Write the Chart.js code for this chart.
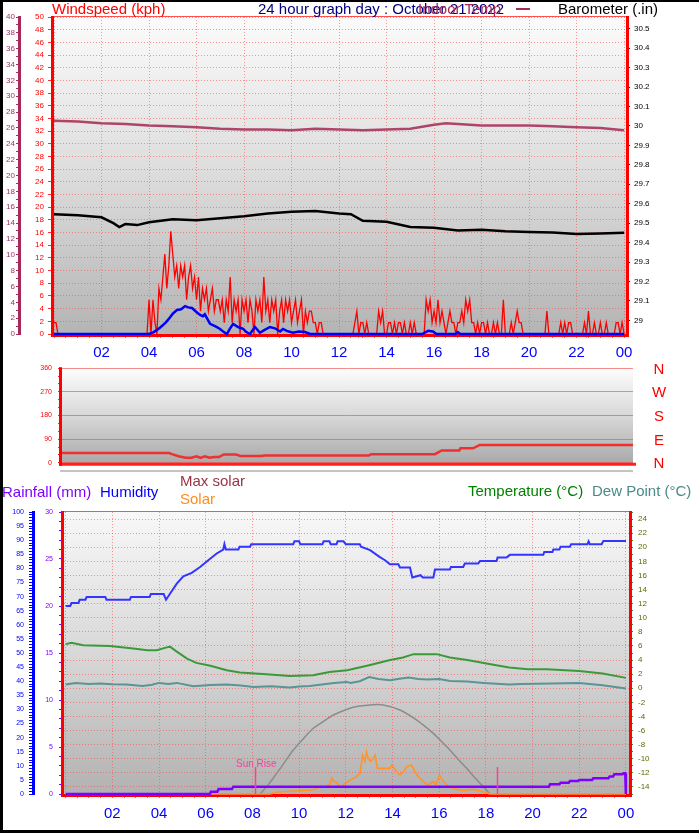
<!DOCTYPE html>
<html><head><meta charset="utf-8">
<script src="https://cdn.jsdelivr.net/npm/chart.js@4.4.1/dist/chart.umd.min.js"></script>
<style>
html,body{margin:0;padding:0;background:#fff;}
body{width:699px;height:833px;position:relative;overflow:hidden;font-family:"Liberation Sans",Arial,sans-serif;}
canvas{position:absolute;left:0;}
.t{position:absolute;white-space:nowrap;font-size:15px;line-height:15px;}
.blk{position:absolute;background:#000;}
</style></head><body>
<canvas id="cTop" width="699" height="372" style="top:0"></canvas>
<canvas id="cMid" width="699" height="115" style="top:358px"></canvas>
<canvas id="cBot" width="699" height="333" style="top:500px"></canvas>

<div class="blk" style="left:0;top:0;width:699px;height:2px"></div>
<div class="blk" style="left:0;top:0;width:3px;height:833px"></div>
<div class="blk" style="left:0;top:830px;width:699px;height:3px"></div>
<div style="position:absolute;left:60px;top:470px;width:573px;height:2px;background:#c4c4c4"></div>

<div class="t" style="left:52px;top:1px;color:#ff0000">Windspeed (kph)</div>
<div class="t" style="left:258px;top:1px;color:#000080">24 hour graph day : October 21 2022</div>
<div class="t" style="left:418px;top:1px;color:#a8285a">Indoor Temp</div>
<div style="position:absolute;left:516px;top:8px;width:14px;height:2px;background:#a8285a"></div>
<div class="t" style="left:558px;top:1px;color:#000">Barometer (.in)</div>

<div class="t" style="left:2px;top:484px;color:#8000ff">Rainfall (mm)</div>
<div class="t" style="left:100px;top:484px;color:#0000ff">Humidity</div>
<div class="t" style="left:180px;top:473px;color:#993344">Max solar</div>
<div class="t" style="left:180px;top:491px;color:#ff8c1a">Solar</div>
<div class="t" style="left:468px;top:483px;color:#008000">Temperature (°C)</div>
<div class="t" style="left:592px;top:483px;color:#4a8a8a">Dew Point (°C)</div>
<div id="sunLabel" class="t" style="font-size:10px;line-height:10px;color:#f0459a;top:759px;left:236px">Sun Rise</div>

<script>
// ---------- DATA ----------
// Top panel
const indoorTimes = [0,1,2,3,4,5,6,7,8,9,10,11,12,13,14,15,16,16.5,17,18,19,20,21,22,23,24];
const indoorTemp  = [26.9,26.8,26.6,26.5,26.3,26.2,26.1,25.9,25.8,25.8,25.7,25.9,25.8,25.7,25.8,25.9,26.4,26.6,26.5,26.3,26.3,26.3,26.2,26.1,26.0,25.7];

const baroTimes  = [0,1,2,2.5,2.75,3,3.5,4,5,6,7,8,9,10,11,12,12.5,13,14,15,16,17,18,19,20,21,22,23,24];
const baroValues = [29.546,29.54,29.53,29.50,29.48,29.495,29.49,29.505,29.52,29.515,29.525,29.535,29.55,29.558,29.563,29.55,29.546,29.512,29.507,29.48,29.476,29.462,29.466,29.458,29.454,29.452,29.444,29.447,29.45];

const windAvgTimes  = [0,4.0,4.2,4.46,4.7,4.88,5.0,5.18,5.35,5.52,5.65,5.81,6.02,6.15,6.27,6.35,6.57,6.8,6.99,7.15,7.28,7.4,7.54,7.75,7.96,8.1,8.25,8.46,8.67,8.85,9.09,9.3,9.52,9.64,9.8,10.06,10.3,10.57,10.78,15.5,15.75,15.95,16.1,16.9,17.0,17.1,24];
const windAvgValues = [0,0,0.3,1.0,1.8,2.6,3.2,3.8,3.9,4.4,4.2,4.1,3.4,3.0,2.8,3.1,1.6,1.2,0.8,0.3,0,0.8,1.6,1.1,0.8,0.3,0,1.1,0.2,0.6,1.1,0.9,0.4,0.8,0.5,0.2,0.4,0.3,0,0,0.5,0.4,0,0,0.3,0,0];

const gustStepMinutes = 5;
const gustValues = [
 1.8,1.8,0,0,0,0,0,0,0,0,0,0,
 0,0,0,0,0,0,0,0,0,0,0,0,
 0,0,0,0,0,0,0,0,0,0,0,0,
 0,0,0,0,0,0,0,0,0,0,0,0,
 5.4,0,5.4,1.8,0,7.2,5.4,9,12.6,7.2,10.8,16.2,
 12.6,9,10.8,7.2,10.8,9,10.8,5.4,9,10.8,7.2,9,
 5.4,9,3.6,7.2,5.4,7.2,3.6,5.4,7.2,3.6,5.4,5.4,
 3.6,5.4,1.8,5.4,3.6,9,1.8,5.4,3.6,5.4,0,5.4,
 3.6,5.4,1.8,5.4,3.6,0,5.4,3.6,5.4,1.8,9,3.6,
 5.4,1.8,5.4,3.6,5.4,0,3.6,5.4,1.8,5.4,3.6,5.4,
 1.8,3.6,5.4,1.8,3.6,5.4,0,3.6,1.8,3.6,3.6,1.8,
 1.8,0,1.8,1.8,0,0,0,0,0,0,0,0,
 0,0,0,0,0,0,0,0,1.8,3.6,0,1.8,
 1.8,0,1.8,0,0,0,0,0,3.6,1.8,3.6,0,
 0,1.8,1.8,0,1.8,0,1.8,1.8,0,1.8,0,0,
 1.8,0,1.8,0,0,0,0,0,5.4,3.6,5.4,1.8,
 3.6,1.8,5.4,1.8,3.6,1.8,0,1.8,3.6,1.8,1.8,0,
 1.8,1.8,3.6,1.8,5.4,3.6,5.4,1.8,1.8,0,1.8,0,
 1.8,1.8,0,1.8,0,0,1.8,0,1.8,0,0,5.4,
 0,0,0,1.8,0,1.8,3.6,1.8,1.8,0,0,0,
 0,0,0,0,0,0,0,0,0,3.6,0,0,
 0,0,0,0,1.8,0,1.8,0,1.8,1.8,0,0,
 0,0,0,0,1.8,0,3.6,0,0,1.8,0,0,
 1.8,0,0,1.8,0,0,0,0,1.8,1.8,0,1.8,
 0];
const gustTimes = gustValues.map((v, i) => i * gustStepMinutes / 60);

const baroTicks = [29,29.1,29.2,29.3,29.4,29.5,29.6,29.7,29.8,29.9,30,30.1,30.2,30.3,30.4,30.5];

// Middle panel: wind direction
const dirTimes  = [0,4.5,4.62,4.9,5.2,5.45,5.65,5.83,6.0,6.2,6.4,6.6,6.8,7.3,7.5,8.4,8.5,12.9,13.0,15.68,15.96,16.7,16.75,17.28,17.56,24];
const dirValues = [37,37,33,25,19,19,25,19,25,19,22,22,32,32,26,26,28,28,33,33,47,47,55,55,68,68];
const compassLabels = ['N','W','S','E','N'];
const compassValues = [360,270,180,90,0];

// Bottom panel
const humTimes  = [0,0.2,0.25,0.55,0.6,0.85,0.9,1.7,1.75,2.75,2.8,3.6,3.65,4.2,4.3,4.47,4.76,5.04,5.4,5.76,6.11,6.47,6.75,6.8,6.86,7.4,7.45,7.9,7.95,9.75,9.8,10.0,10.05,11.0,11.05,11.3,11.35,11.6,11.65,11.9,12.0,12.6,12.65,13.04,13.46,13.68,13.89,14.25,14.32,14.75,14.85,15.2,15.3,15.75,15.82,16.46,16.5,17.03,17.1,17.67,17.75,18.46,18.5,18.89,19.03,20.46,20.5,20.85,20.89,21.15,21.2,21.6,21.65,22.35,22.4,22.45,22.96,23.03,24];
const humValues = [66.7,66.7,67.7,67.7,68.9,68.9,69.9,69.9,68.9,68.9,69.9,69.9,70.9,70.9,68.9,71,74.6,77.2,78.4,80.5,82.9,85.3,86.7,88.6,86.7,86.7,87.7,87.7,88.6,88.6,89.6,89.6,88.6,88.6,89.6,89.6,88.6,88.6,89.6,89.6,88.6,88.6,87.7,86.5,84,82.9,81.5,81.5,80.3,80.3,76.8,77.6,76.8,76.8,79.6,79.6,80.5,80.5,81.7,81.7,82.6,82.6,83.9,83.9,84.8,84.8,85.8,85.8,86.7,86.7,87.7,87.7,88.6,88.6,89.6,88.6,88.6,89.7,89.7];

const tempTimes  = [0,0.25,0.75,1.9,2.9,3.5,3.9,4.33,4.47,4.76,5.2,5.6,6.2,6.9,7.47,8.6,9.6,10.6,11.3,12.05,12.2,13.0,13.9,14.45,14.9,15.9,16.46,17.2,18.2,19.0,19.8,20.6,22.0,23.0,24];
const tempValues = [6.26,6.45,6.1,6.0,5.65,5.4,5.4,5.8,5.9,5.2,4.2,3.6,3.2,2.56,2.23,2.0,1.75,1.85,2.3,2.56,2.66,3.27,4.0,4.36,4.84,4.84,4.36,4.0,3.41,2.94,2.7,2.7,2.46,2.1,1.47];

const dewTimes  = [0,0.43,1.0,1.47,2.0,2.6,3.3,3.7,4.0,4.4,4.76,5.47,6.2,6.9,7.5,8.05,8.8,9.6,10.0,10.45,11.5,12.05,12.2,12.6,13.0,13.4,13.9,14.3,14.7,15.1,15.5,16.0,16.46,17.2,17.9,19.0,19.5,20.8,22.0,23.0,24];
const dewValues = [0.52,0.76,0.6,0.66,0.55,0.52,0.33,0.5,0.76,0.6,0.76,0.28,0.45,0.52,0.4,0.19,0.3,0.1,0.25,0.33,0.76,0.9,0.76,1.0,1.6,1.3,1.14,1.35,1.52,1.3,1.24,1.3,1.04,0.95,0.76,0.52,0.6,0.66,0.76,0.43,-0.05];

const rainTimes  = [0,6.18,6.22,6.5,6.55,7.12,7.18,20.7,20.75,21.15,21.2,21.55,21.6,21.95,22.0,22.55,22.6,23.25,23.3,23.45,23.5,23.85,23.9,23.97,23.99,24];
const rainValues = [0,0,0.25,0.25,0.53,0.53,0.78,0.78,1.03,1.03,1.2,1.2,1.39,1.39,1.5,1.5,1.67,1.67,1.85,1.85,2.1,2.1,2.2,2.2,0,0];

const solarTimes  = [0,8.75,9.04,9.61,10.04,10.61,10.9,11.1,11.32,11.4,11.5,11.61,11.75,11.9,12.04,12.18,12.4,12.61,12.72,12.82,12.89,12.96,13.06,13.18,13.25,13.35,13.61,13.89,13.97,14.18,14.32,14.47,14.61,14.82,14.96,15.11,15.32,15.54,15.75,15.86,16.01,16.18,16.39,16.75,17.03,17.46,17.89,18.18,24];
const solarValues = [0,0,6,10,12,15,27,24,35,57,45,41,24,32,41,50,58,73,138,115,150,126,115,126,138,91,91,91,103,79,67,79,97,103,79,61,44,32,44,32,67,44,26,17,12,17,8,0,0];

const maxSolarTimes  = [8.33,8.7,9.04,9.4,9.75,10.2,10.61,11.0,11.47,12.18,12.6,13.04,13.6,14.32,15.04,15.75,16.1,16.46,16.8,17.18,17.5,17.89,18.18];
const maxSolarValues = [0,35,73,115,156,198,233,255,280,304,312,316,316,298,262,215,186,156,124,91,60,26,0];

const sunTimes = [8.11, 18.46];

const halfHourTicks = [];
for (let h = 0; h <= 48; h++) halfHourTicks.push(h / 2);

// ---------- HELPERS ----------
Chart.defaults.font.family = '"Liberation Sans", Arial, sans-serif';
Chart.defaults.animation = false;
const pts = (xs, ys) => xs.map((x, i) => ({x, y: ys[i]}));
const hourLabel = v => (v > 0 && Math.abs(v % 2) < 1e-9) ? String(Math.round(v) % 24).padStart(2, '0') : '';
const GRID = 'rgba(255,70,70,0.55)';

const panelPlugin = {
  id: 'panel',
  beforeDraw(chart, args, o) {
    const {ctx, chartArea: a} = chart;
    const g = ctx.createLinearGradient(0, a.top, 0, a.bottom);
    o.stops.forEach(s => g.addColorStop(s[0], s[1]));
    ctx.save(); ctx.fillStyle = g;
    ctx.fillRect(a.left, a.top, a.right - a.left, a.bottom - a.top);
    ctx.restore();
  },
  beforeDatasetsDraw(chart, args, o) {
    const {ctx, chartArea: a} = chart;
    const f = o.frame || {};
    ctx.save();
    const line = (x1, y1, x2, y2, w, c) => { ctx.beginPath(); ctx.lineWidth = w; ctx.strokeStyle = c; ctx.moveTo(x1, y1); ctx.lineTo(x2, y2); ctx.stroke(); };
    if (f.top) line(a.left - 3, a.top - f.top[0] / 2, a.right + 3, a.top - f.top[0] / 2, f.top[0], f.top[1]);
    if (f.bottom) line(a.left - 3, a.bottom + f.bottom[0] / 2, a.right + 3, a.bottom + f.bottom[0] / 2, f.bottom[0], f.bottom[1]);
    if (f.left) line(a.left - f.left[0] / 2, a.top - 1, a.left - f.left[0] / 2, a.bottom + 3, f.left[0], f.left[1]);
    if (f.right) line(a.right + f.right[0] / 2, a.top - 1, a.right + f.right[0] / 2, a.bottom + 3, f.right[0], f.right[1]);
    ctx.restore();
  }
};

const sunPlugin = {
  id: 'sun',
  afterDatasetsDraw(chart) {
    const {ctx, chartArea: a, scales} = chart;
    ctx.save(); ctx.strokeStyle = '#f0459a'; ctx.lineWidth = 1.5;
    sunTimes.forEach(t => {
      const px = Math.round(scales.x.getPixelForValue(t)) + 0.5;
      ctx.beginPath(); ctx.moveTo(px, a.bottom); ctx.lineTo(px, a.bottom - 27); ctx.stroke();
    });
    ctx.restore();
  }
};

function timeAxis(min, max, height, pad) {
  return {
    type: 'linear', position: 'bottom', min, max, bounds: 'data',
    afterBuildTicks: s => { s.ticks = halfHourTicks.map(v => ({value: v})); },
    afterFit: s => { s.height = height; },
    ticks: {autoSkip: false, maxRotation: 0, color: '#0000ff', font: {size: 15}, padding: pad, callback: hourLabel},
    grid: {color: c => (c.tick && c.tick.value % 2 === 0) ? GRID : 'transparent', tickColor: '#8a8ab8', tickLength: 4, lineWidth: 1},
    border: {display: false, dash: [1, 2]}
  };
}
const line = (data, color, width, yAxisID, order, extra) => Object.assign({
  data, borderColor: color, borderWidth: width, yAxisID, order, pointRadius: 0, tension: 0, fill: false, clip: 4
}, extra || {});

// ---------- TOP CHART ----------
new Chart(document.getElementById('cTop'), {
  type: 'line',
  data: {datasets: [
    line(pts(gustTimes, gustValues), '#ff0000', 1.3, 'ySpeed', 5),
    line(pts(indoorTimes, indoorTemp), '#b04468', 2.5, 'yIndoor', 3),
    line(pts(baroTimes, baroValues), '#000000', 2.5, 'yBaro', 2),
    line(pts(windAvgTimes, windAvgValues), '#0000ff', 2.5, 'ySpeed', 1)
  ]},
  options: {
    responsive: false, animation: false,
    layout: {padding: {top: 17, left: 0, right: 0, bottom: 0}},
    plugins: {legend: {display: false}, tooltip: {enabled: false},
      panel: {stops: [[0, '#fbfbfb'], [0.5, '#dcdcdc'], [1, '#b4b4b4']],
              frame: {top: [1, '#ff5050'], bottom: [3, '#ff0000'], left: [3, '#ff0000'], right: [3, '#ff0000']}}},
    scales: {
      x: timeAxis(0, 24.08, 38, 6),
      yIndoor: {position: 'left', weight: 2, min: 0, max: 40,
        afterFit: s => { s.width = 19; },
        ticks: {stepSize: 1, autoSkip: false, color: '#a0306a', font: {size: 8}, padding: 1, callback: v => v % 2 === 0 ? v : ''},
        grid: {drawOnChartArea: false, tickLength: 3, tickColor: '#a8285a'},
        border: {color: '#a8285a', width: 3}},
      ySpeed: {position: 'left', weight: 1, min: 0, max: 50,
        afterFit: s => { s.width = 35; },
        ticks: {stepSize: 2, autoSkip: false, color: '#ff0000', font: {size: 8}, padding: 4},
        grid: {color: GRID, tickColor: '#ff3030', tickLength: 6},
        border: {display: false, dash: [1, 2]}},
      yBaro: {position: 'right', min: 28.93, max: 30.56, bounds: 'data',
        afterBuildTicks: s => { s.ticks = baroTicks.map(v => ({value: v})); },
        afterFit: s => { s.width = 73; },
        ticks: {autoSkip: false, color: '#000', font: {size: 8}, padding: 4, callback: v => String(Math.round(v * 10) / 10)},
        grid: {drawOnChartArea: false, tickLength: 4, tickColor: '#000'},
        border: {display: false}}
    }
  },
  plugins: [panelPlugin]
});

// ---------- MIDDLE CHART ----------
const midChart = new Chart(document.getElementById('cMid'), {
  type: 'line',
  data: {datasets: [line(pts(dirTimes, dirValues), '#ee3030', 2.5, 'yDir', 1)]},
  options: {
    responsive: false, animation: false,
    layout: {padding: {top: 10, left: 0, right: 66, bottom: 5}},
    plugins: {legend: {display: false}, tooltip: {enabled: false},
      panel: {stops: [[0, '#fdfdfd'], [0.5, '#d8d8d8'], [1, '#aaaaaa']],
              frame: {left: [3, '#ff0000'], bottom: [3, '#ff2020']}}},
    scales: {
      x: {type: 'linear', min: 0, max: 24, display: false},
      yDir: {position: 'left', min: 0, max: 360,
        afterFit: s => { s.width = 62; },
        ticks: {stepSize: 30, autoSkip: false, color: '#ff0000', font: {size: 7}, padding: 6, callback: v => v % 90 === 0 ? v : ''},
        grid: {color: c => (c.tick && c.tick.value % 90 === 0) ? 'rgba(240,80,80,0.65)' : 'transparent', tickColor: '#ff2020', tickLength: 4},
        border: {display: false}}
    }
  },
  plugins: [panelPlugin]
});

// ---------- BOTTOM CHART ----------
const botChart = new Chart(document.getElementById('cBot'), {
  type: 'line',
  data: {datasets: [
    line(pts(maxSolarTimes, maxSolarValues), '#8c8c8c', 1.5, 'ySolar', 7, {tension: 0.3}),
    line(pts(solarTimes, solarValues), '#ff9428', 1.6, 'ySolar', 6),
    line(pts(dewTimes, dewValues), '#5a9494', 2, 'yTemp', 5),
    line(pts(tempTimes, tempValues), '#3a9a3a', 2, 'yTemp', 4),
    line(pts(humTimes, humValues), '#3434ff', 2, 'yHum', 3),
    line(pts(rainTimes, rainValues), '#8000ff', 2.5, 'yRain', 2)
  ]},
  options: {
    responsive: false, animation: false,
    layout: {padding: {top: 12, left: 0, right: 0, bottom: 0}},
    plugins: {legend: {display: false}, tooltip: {enabled: false},
      panel: {stops: [[0, '#f8f8f8'], [0.5, '#d8d8d8'], [1, '#b2b2b2']],
              frame: {top: [1, '#ff5050'], bottom: [3, '#ff0000'], left: [3, '#ff0000'], right: [3, '#ff0000']}}},
    scales: {
      x: timeAxis(-0.07, 24.13, 39, 7),
      yHum: {position: 'left', weight: 2, min: 0, max: 100,
        afterFit: s => { s.width = 33; },
        ticks: {stepSize: 1, autoSkip: false, color: '#0000ff', font: {size: 7}, padding: 5, callback: v => v % 5 === 0 ? v : ''},
        grid: {drawOnChartArea: false, tickLength: 4, tickColor: '#0000ff'},
        border: {color: '#0000ff', width: 3}},
      yRain: {position: 'left', weight: 1, min: 0, max: 30,
        afterFit: s => { s.width = 31; },
        ticks: {stepSize: 1, autoSkip: false, color: '#8000ff', font: {size: 7}, padding: 6, callback: v => v % 5 === 0 ? v : ''},
        grid: {drawOnChartArea: false, tickLength: 5, tickColor: '#8000ff'},
        border: {display: false}},
      yTemp: {position: 'right', min: -15, max: 25,
        afterFit: s => { s.width = 70; },
        ticks: {stepSize: 1, autoSkip: false, color: '#5a6a00', font: {size: 8}, padding: 5, callback: v => v % 2 === 0 ? v : ''},
        grid: {color: c => (c.tick && c.tick.value % 2 === 0) ? GRID : 'transparent', tickColor: '#3a8a3a', tickLength: 4},
        border: {display: false, dash: [1, 2]}},
      ySolar: {display: false, min: 0, max: 1000}
    }
  },
  plugins: [panelPlugin, sunPlugin]
});

// Position compass letters and sun-rise label from the scales
const midTop = 358;
compassLabels.forEach((lbl, i) => {
  const d = document.createElement('div');
  d.className = 't';
  d.textContent = lbl;
  d.style.color = '#ff0000';
  d.style.width = '14px';
  d.style.textAlign = 'center';
  d.style.left = '652px';
  d.style.top = (midTop + midChart.scales.yDir.getPixelForValue(compassValues[i]) - 7.5) + 'px';
  document.body.appendChild(d);
});
const sl = document.getElementById('sunLabel');
sl.style.left = (botChart.scales.x.getPixelForValue(sunTimes[0]) - 19) + 'px';
</script>
</body></html>
